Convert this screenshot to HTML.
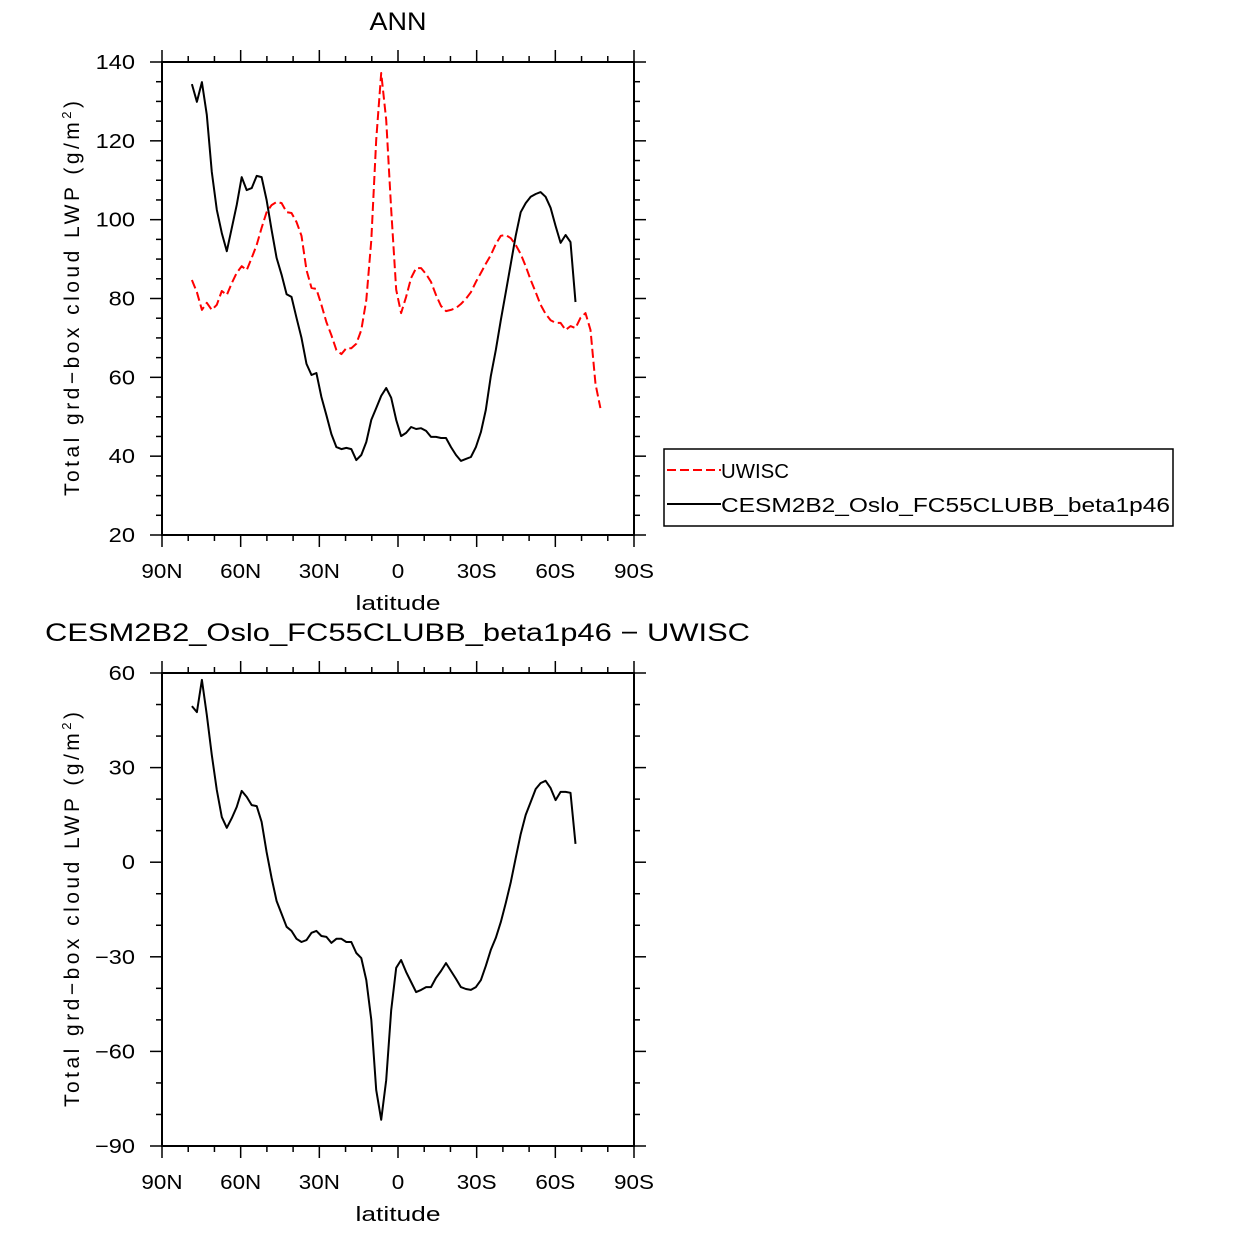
<!DOCTYPE html>
<html><head><meta charset="utf-8"><style>
html,body{margin:0;padding:0;background:#fff;}
svg{display:block;font-family:"Liberation Sans",sans-serif;}
</style></head><body>
<svg id="chart" width="1233" height="1233" viewBox="0 0 1233 1233"></svg>
<script>
// Top panel data
const blackStartLat = 78.6;
const blackStepLat = 1.9;
const blackVals = [134.4,129.9,134.9,126.6,112.1,102.5,96.6,92.0,97.9,103.7,110.8,107.5,108.0,111.1,110.8,105.0,97.4,90.3,86.0,81.1,80.4,75.1,70.0,63.4,60.6,61.1,55.0,50.4,45.6,42.3,41.8,42.1,41.8,39.0,40.3,43.6,49.2,52.2,55.3,57.3,54.8,49.2,45.1,45.9,47.4,46.9,47.1,46.4,44.9,44.9,44.6,44.6,42.3,40.3,38.8,39.3,39.8,42.3,46.1,51.7,60.3,66.9,74.5,81.6,88.8,95.9,101.9,104.2,105.8,106.5,107.0,105.8,103.0,98.4,94.1,96.1,94.3,79.1];
const redStartLat = 78.6;
const redStepLat = 1.9;
const redVals = [84.7,81.6,77.1,78.9,77.1,78.4,81.9,80.9,83.9,86.5,88.2,87.2,90.3,93.6,97.9,101.9,103.7,104.5,104.2,101.9,101.7,99.4,95.9,87.2,82.7,82.4,78.4,74.0,70.7,66.9,65.9,67.4,67.4,68.5,72.0,79.6,94.8,120.2,137.2,125.3,102.5,82.2,76.3,80.4,85.2,87.7,87.7,86.2,84.2,80.9,78.1,76.8,77.1,77.6,78.6,79.9,81.6,84.2,86.5,88.8,91.0,93.8,95.9,96.1,95.3,93.6,91.3,88.2,84.7,81.6,78.4,76.1,74.5,73.8,73.8,72.0,73.0,72.5,75.1,76.3,72.0,58.3,52.2];
// Bottom panel data
const diffVals = [49.5,47.6,57.8,46.7,34.0,22.9,14.3,10.9,14.0,17.5,22.6,20.7,18.1,17.8,12.8,3.2,-5.0,-12.3,-16.4,-20.5,-21.8,-24.3,-25.3,-24.7,-22.4,-21.8,-23.4,-23.7,-25.6,-24.3,-24.3,-25.3,-25.3,-28.8,-30.4,-37.4,-50.0,-72.2,-81.7,-69.1,-46.9,-33.5,-31.0,-34.8,-38.0,-41.2,-40.5,-39.6,-39.6,-36.7,-34.5,-32.0,-34.5,-37.0,-39.6,-40.2,-40.5,-39.6,-37.4,-32.9,-27.8,-24.0,-19.0,-12.9,-6.3,1.3,8.9,15.0,19.1,23.2,25.1,25.8,23.5,19.7,22.3,22.3,22.0,5.8];
const xTickVals = [90,60,30,0,-30,-60,-90];
const xTickLabels = ["90N","60N","30N","0","30S","60S","90S"];
const topYTicks = [20,40,60,80,100,120,140];
const botYTicks = [-90,-60,-30,0,30,60];

const NS="http://www.w3.org/2000/svg";
const svg=document.getElementById('chart');
function mk(tag,attrs,parent){const e=document.createElementNS(NS,tag);for(const k in attrs)e.setAttribute(k,attrs[k]);(parent||svg).appendChild(e);return e;}
function widen(t,f){const w=t.getComputedTextLength();t.setAttribute('textLength',(w*f).toFixed(1));t.setAttribute('lengthAdjust','spacingAndGlyphs');}
const X0=162,X1=634;
function xs(lat){return X0+(90-lat)/180*(X1-X0);}

function panel(name,top,bottom,ymin,ymax,yticks,yminor,title,titleX,titleAnchor,titleLen){
  const g=mk('g',{});
  
  
  const ys=v=>bottom-(v-ymin)/(ymax-ymin)*(bottom-top);
  const fr=mk('rect',{x:X0,y:top,width:X1-X0,height:bottom-top,fill:'none',stroke:'#000','stroke-width':2},g);
  
  
  for(let v=ymin;v<=ymax+1e-9;v+=yminor){
    const major=yticks.some(t=>Math.abs(t-v)<1e-6);const L=major?12:6;const y=ys(v);
    mk('line',{x1:X0-L,y1:y,x2:X0,y2:y,stroke:'#000','stroke-width':1.5},g);
    mk('line',{x1:X1,y1:y,x2:X1+L,y2:y,stroke:'#000','stroke-width':1.5},g);
  }
  yticks.forEach(v=>{
    const t=mk('text',{x:X0-27,y:ys(v)+7,'text-anchor':'end','font-size':20},g);
    t.textContent=v<0?'\u2212'+Math.abs(v):String(v);
    
    
    widen(t,1.18);
  });
  for(let v=90;v>=-90;v-=10){
    const major=xTickVals.includes(v);const L=major?12:6;const x=xs(v);
    mk('line',{x1:x,y1:bottom,x2:x,y2:bottom+L,stroke:'#000','stroke-width':1.5},g);
    mk('line',{x1:x,y1:top-L,x2:x,y2:top,stroke:'#000','stroke-width':1.5},g);
  }
  xTickVals.forEach((v,i)=>{
    const t=mk('text',{x:xs(v),y:bottom+43,'text-anchor':'middle','font-size':20},g);
    t.textContent=xTickLabels[i];
    
    
    widen(t,1.12);
  });
  const xl=mk('text',{x:398,y:bottom+75,'text-anchor':'middle','font-size':20,textLength:85,lengthAdjust:'spacingAndGlyphs'},g);
  xl.textContent='latitude';
  
  
  const cy=(top+bottom)/2;
  const yl=mk('text',{x:0,y:0,'text-anchor':'middle','font-size':21,transform:`translate(79,${cy}) rotate(-90)`,textLength:395,lengthAdjust:'spacing'},g);
  yl.innerHTML='Total grd\u2212box cloud LWP (g/m<tspan dy="-8" font-size="13">2</tspan><tspan dy="8">)</tspan>';
  
  
  const tt=mk('text',{x:titleX,y:top-32,'text-anchor':titleAnchor,'font-size':25,textLength:titleLen,lengthAdjust:'spacingAndGlyphs'},g);
  tt.textContent=title;
  
  
  return {g,ys};
}
function line(g,ys,start,step,vals,color,dash,name){
  const pts=vals.map((v,i)=>xs(start-i*step).toFixed(1)+','+ys(v).toFixed(1)).join(' ');
  const p=mk('polyline',{points:pts,fill:'none',stroke:color,'stroke-width':2,'stroke-dasharray':dash||'none','stroke-linejoin':'round'},g);
  
  
}
const P1=panel('top-panel',62,535,20,140,topYTicks,5,'ANN',398,'middle',57);
line(P1.g,P1.ys,redStartLat,redStepLat,redVals,'#ff0000','9,4','uwisc-line');
line(P1.g,P1.ys,blackStartLat,blackStepLat,blackVals,'#000','','cesm-line');
const P2=panel('bottom-panel',673,1146,-90,60,botYTicks,10,'CESM2B2_Oslo_FC55CLUBB_beta1p46 \u2212 UWISC',45,'start',705);
line(P2.g,P2.ys,blackStartLat,blackStepLat,diffVals,'#000','','diff-line');

const lg=mk('g',{});


mk('rect',{x:664,y:449,width:509,height:77,fill:'#fff',stroke:'#000','stroke-width':1.5},lg);
const e1=mk('g',{},lg);


mk('line',{x1:667,y1:470,x2:721,y2:470,stroke:'#f00','stroke-width':2,'stroke-dasharray':'9,4'},e1);
const t1=mk('text',{x:721,y:478,'font-size':20,textLength:68,lengthAdjust:'spacingAndGlyphs'},e1);t1.textContent='UWISC';
const e2=mk('g',{},lg);


mk('line',{x1:667,y1:504,x2:721,y2:504,stroke:'#000','stroke-width':2},e2);
const t2=mk('text',{x:721,y:512,'font-size':20,textLength:449,lengthAdjust:'spacingAndGlyphs'},e2);t2.textContent='CESM2B2_Oslo_FC55CLUBB_beta1p46';
</script>
</body></html>
